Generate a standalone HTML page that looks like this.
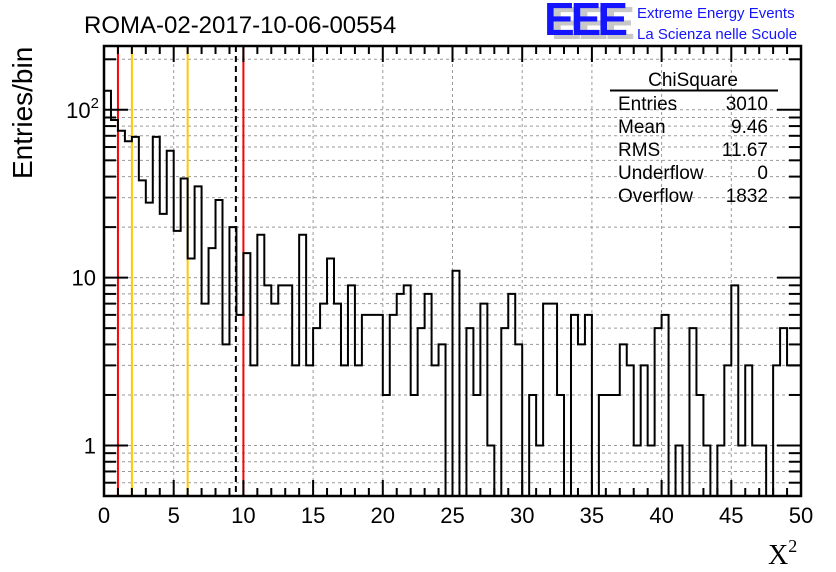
<!DOCTYPE html>
<html><head><meta charset="utf-8"><style>
html,body{margin:0;padding:0;background:#fff;}
svg{display:block;font-family:"Liberation Sans",sans-serif;}
</style></head><body>
<svg id="chart" width="836" height="572" viewBox="0 0 836 572" xmlns="http://www.w3.org/2000/svg">
<rect width="836" height="572" fill="#fff"/>
<g id="grid"></g>
<g id="lines"></g>
<g id="hist"></g>
<g id="axes"></g>
<text x="84" y="33" font-size="24">ROMA-02-2017-10-06-00554</text>
<text transform="translate(32,179) rotate(-90)" font-size="28">Entries/bin</text>
<text x="768" y="564" font-size="28" font-family="Liberation Serif,serif">X<tspan font-size="18" dy="-12">2</tspan></text>
<g>
<text x="551" y="39" font-size="46" font-weight="bold" fill="#c8c8c8" letter-spacing="-4">EEE</text>
<text x="544" y="35" font-size="46" font-weight="bold" fill="#1414ff" letter-spacing="-4">EEE</text>
<text x="637" y="18" font-size="15" fill="#1414ff">Extreme Energy Events</text>
<text x="637" y="39" font-size="15" fill="#1414ff">La Scienza nelle Scuole</text>
</g>
<g font-size="19">
<text x="693" y="86" text-anchor="middle">ChiSquare</text>
<line x1="610" y1="90.5" x2="778" y2="90.5" stroke="#000" stroke-width="2"/>
<text x="618" y="110">Entries</text><text x="768" y="110" text-anchor="end">3010</text>
<text x="618" y="133">Mean</text><text x="768" y="133" text-anchor="end">9.46</text>
<text x="618" y="156">RMS</text><text x="768" y="156" text-anchor="end">11.67</text>
<text x="618" y="179">Underflow</text><text x="768" y="179" text-anchor="end">0</text>
<text x="618" y="202">Overflow</text><text x="768" y="202" text-anchor="end">1832</text>
</g>
</svg>
<script>
const binCounts=[130,87,75,65,69,38,28,69,24,57,19,39,13,35,7,15,29,4,20,6,
14,3,18,9,7,9,9,3,18,3,5,7,13,7,3,9,3,6,6,6,
2,6,8,9,2,5,8,3,4,0,11,0,5,2,7,1,0,5,8,4,
0,2,1,7,7,2,0,6,4,6,0,2,2,2,4,3,1,3,1,5,
6,0,1,0,5,2,1,0,1,3,9,1,3,1,1,0,3,5,3,3];
const xTicks=[0,5,10,15,20,25,30,35,40,45,50];
const yMajor=[1,10,100];
const yMajorLabels=["1","10","10²"];
const refRed=[1,10];
const refOrange=[2,6];
const meanLine=[9.46];
const xMin=0,xMax=50,binW=0.5,yMin=0.5,yMax=240;
const L=104,R=801,T=46,B=496;
const NS="http://www.w3.org/2000/svg";
function xs(v){return L+(v-xMin)/(xMax-xMin)*(R-L);}
function ys(v){return B-(Math.log10(v)-Math.log10(yMin))/(Math.log10(yMax)-Math.log10(yMin))*(B-T);}
function mk(tag,attrs,parent){const e=document.createElementNS(NS,tag);for(const k in attrs)e.setAttribute(k,attrs[k]);parent.appendChild(e);return e;}
const grid=document.getElementById('grid'),axes=document.getElementById('axes'),lines=document.getElementById('lines'),hist=document.getElementById('hist');
xTicks.forEach(t=>{if(t>xMin&&t<xMax){const g=mk('line',{x1:xs(t),x2:xs(t),y1:T,y2:B,stroke:'#999','stroke-dasharray':'3,3','stroke-width':1},grid);

}});
for(let d=0.1;d<=100;d*=10){for(let m=1;m<=9;m++){const v=Math.round(d*m*100)/100;if(v<=yMin||v>=yMax)continue;const y=ys(v);
const g=mk('line',{x1:L,x2:R,y1:y,y2:y,stroke:'#999','stroke-dasharray':'3,3','stroke-width':1},grid);


const isMaj=yMajor.includes(v);const len=isMaj?24:12;
mk('line',{x1:L,x2:L+len,y1:y,y2:y,stroke:'#000','stroke-width':2},axes);
mk('line',{x1:R,x2:R-len,y1:y,y2:y,stroke:'#000','stroke-width':2},axes);}}
refRed.forEach(v=>{const l=mk('line',{x1:xs(v),x2:xs(v),y1:T,y2:B,stroke:'#f00','stroke-width':2},lines);

});
refOrange.forEach(v=>{const l=mk('line',{x1:xs(v),x2:xs(v),y1:T,y2:B,stroke:'#ffc800','stroke-width':2},lines);

});
meanLine.forEach(v=>{const l=mk('line',{x1:xs(v),x2:xs(v),y1:T,y2:B,stroke:'#000','stroke-width':2,'stroke-dasharray':'6,4'},lines);

});
let d='';let prev=null;
binCounts.forEach((c,i)=>{const x0=xs(xMin+i*binW),x1=xs(xMin+(i+1)*binW);const y=c>0?Math.min(B,ys(c)):B;
if(prev===null)d+='M'+x0+','+y;else d+='L'+x0+','+y;d+='L'+x1+','+y;prev=y;});
const p=mk('path',{d:d,fill:'none',stroke:'#000','stroke-width':2,'clip-path':'url(#clip)'},hist);


const defs=mk('defs',{},document.getElementById('chart'));const cp=mk('clipPath',{id:'clip'},defs);mk('rect',{x:L,y:T,width:R-L,height:B-T},cp);
const fr=mk('rect',{x:L,y:T,width:R-L,height:B-T,fill:'none',stroke:'#000','stroke-width':2.5},axes);


for(let v=xMin;v<=xMax;v+=1){const x=xs(v);const maj=v%5===0;const len=maj?16:8;
mk('line',{x1:x,x2:x,y1:B,y2:B-len,stroke:'#000','stroke-width':2},axes);
mk('line',{x1:x,x2:x,y1:T,y2:T+len,stroke:'#000','stroke-width':2},axes);}
xTicks.forEach(t=>{const tx=mk('text',{x:xs(t),y:523,'font-size':22,'text-anchor':'middle'},axes);tx.textContent=t;

});
yMajor.forEach((v,i)=>{const tx=mk('text',{x:96,y:ys(v)+8,'font-size':22,'text-anchor':'end'},axes);


if(v===100){tx.textContent='10';const s=mk('tspan',{'font-size':15,dy:-10},tx);s.textContent='2';tx.setAttribute('x',99);}else tx.textContent=yMajorLabels[i];});
</script>
</body></html>
